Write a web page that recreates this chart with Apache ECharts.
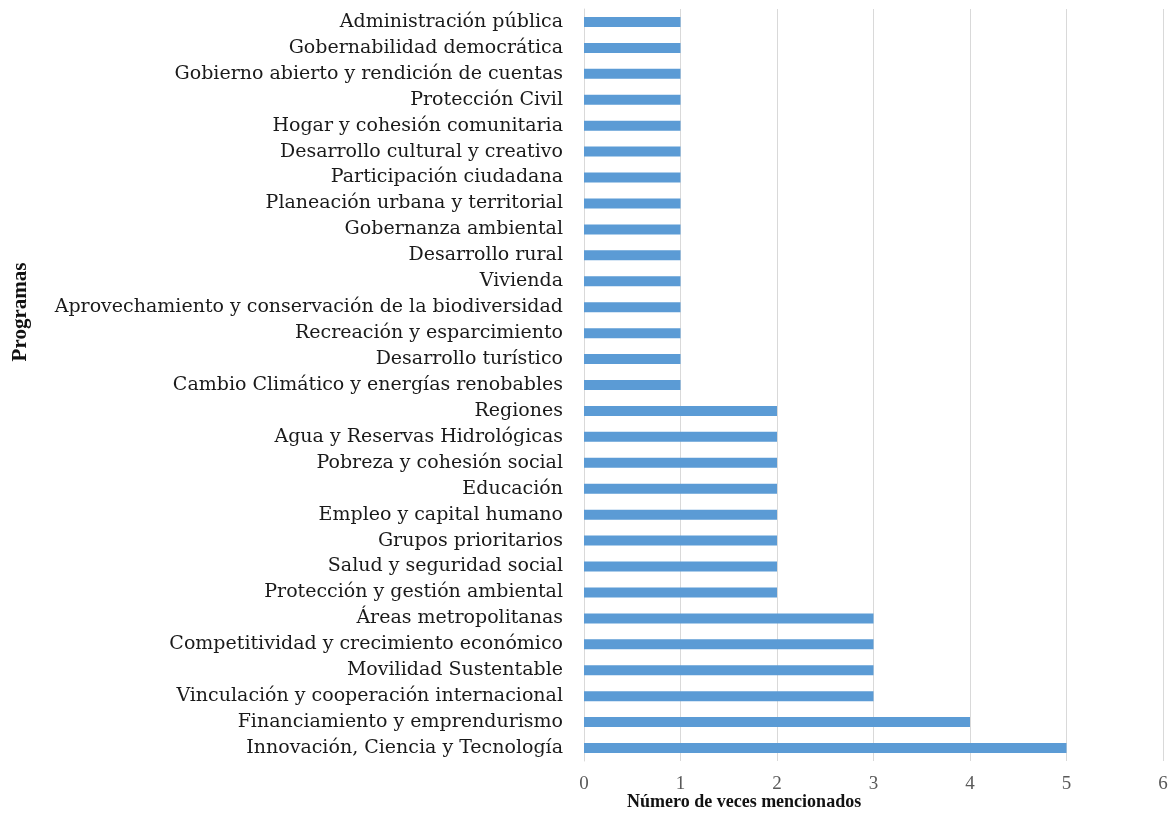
<!DOCTYPE html>
<html>
<head>
<meta charset="utf-8">
<script src="https://cdn.jsdelivr.net/npm/echarts@6/dist/echarts.min.js"></script>
<style>
  html, body { margin: 0; padding: 0; background: #fff; }
  #chart { width: 1172px; height: 813px; }
</style>
</head>
<body>
<div id="chart"></div>
<script>
  // programas, de arriba hacia abajo
  const programas = [
    'Administración pública',
    'Gobernabilidad democrática',
    'Gobierno abierto y rendición de cuentas',
    'Protección Civil',
    'Hogar y cohesión comunitaria',
    'Desarrollo cultural y creativo',
    'Participación ciudadana',
    'Planeación urbana y territorial',
    'Gobernanza ambiental',
    'Desarrollo rural',
    'Vivienda',
    'Aprovechamiento y conservación de la biodiversidad',
    'Recreación y esparcimiento',
    'Desarrollo turístico',
    'Cambio Climático y energías renobables',
    'Regiones',
    'Agua y Reservas Hidrológicas',
    'Pobreza y cohesión social',
    'Educación',
    'Empleo y capital humano',
    'Grupos prioritarios',
    'Salud y seguridad social',
    'Protección y gestión ambiental',
    'Áreas metropolitanas',
    'Competitividad y crecimiento económico',
    'Movilidad Sustentable',
    'Vinculación y cooperación internacional',
    'Financiamiento y emprendurismo',
    'Innovación, Ciencia y Tecnología'
  ];
  const menciones = [1, 1, 1, 1, 1, 1, 1, 1, 1, 1, 1, 1, 1, 1, 1,
    2, 2, 2, 2, 2, 2, 2, 2,
    3, 3, 3, 3,
    4, 5];

  const serif = '"Liberation Serif", "DejaVu Serif", serif';
  const labelFont = '"DejaVu Serif", "Liberation Serif", serif';

  const chart = echarts.init(document.getElementById('chart'));
  chart.setOption({
    animation: false,
    grid: { left: 584, right: 9, top: 9, bottom: 52 },
    xAxis: {
      type: 'value',
      min: 0,
      max: 6,
      interval: 1,
      axisLine: { show: false },
      axisTick: { show: false },
      splitLine: { lineStyle: { color: '#d9d9d9', width: 1 } },
      axisLabel: { color: '#595959', fontFamily: serif, fontSize: 19, margin: 14 }
    },
    yAxis: {
      type: 'category',
      inverse: true,
      data: programas,
      axisLine: { show: true, lineStyle: { color: '#d9d9d9' } },
      axisTick: { show: false },
      axisLabel: { interval: 0, color: '#1a1a1a', fontFamily: labelFont, fontSize: 19, margin: 21 }
    },
    series: [{
      type: 'bar',
      data: menciones,
      barWidth: 10,
      itemStyle: { color: '#5b9bd5' }
    }],
    graphic: [
      {
        type: 'text',
        left: 627,
        top: 793,
        style: {
          text: 'Número de veces mencionados',
          font: 'bold 18px ' + serif,
          fill: '#111'
        }
      },
      {
        type: 'text',
        x: 21,
        y: 312,
        rotation: Math.PI / 2,
        style: {
          text: 'Programas',
          font: 'bold 21px ' + serif,
          fill: '#111',
          align: 'center',
          verticalAlign: 'middle'
        }
      }
    ]
  });
</script>
</body>
</html>
